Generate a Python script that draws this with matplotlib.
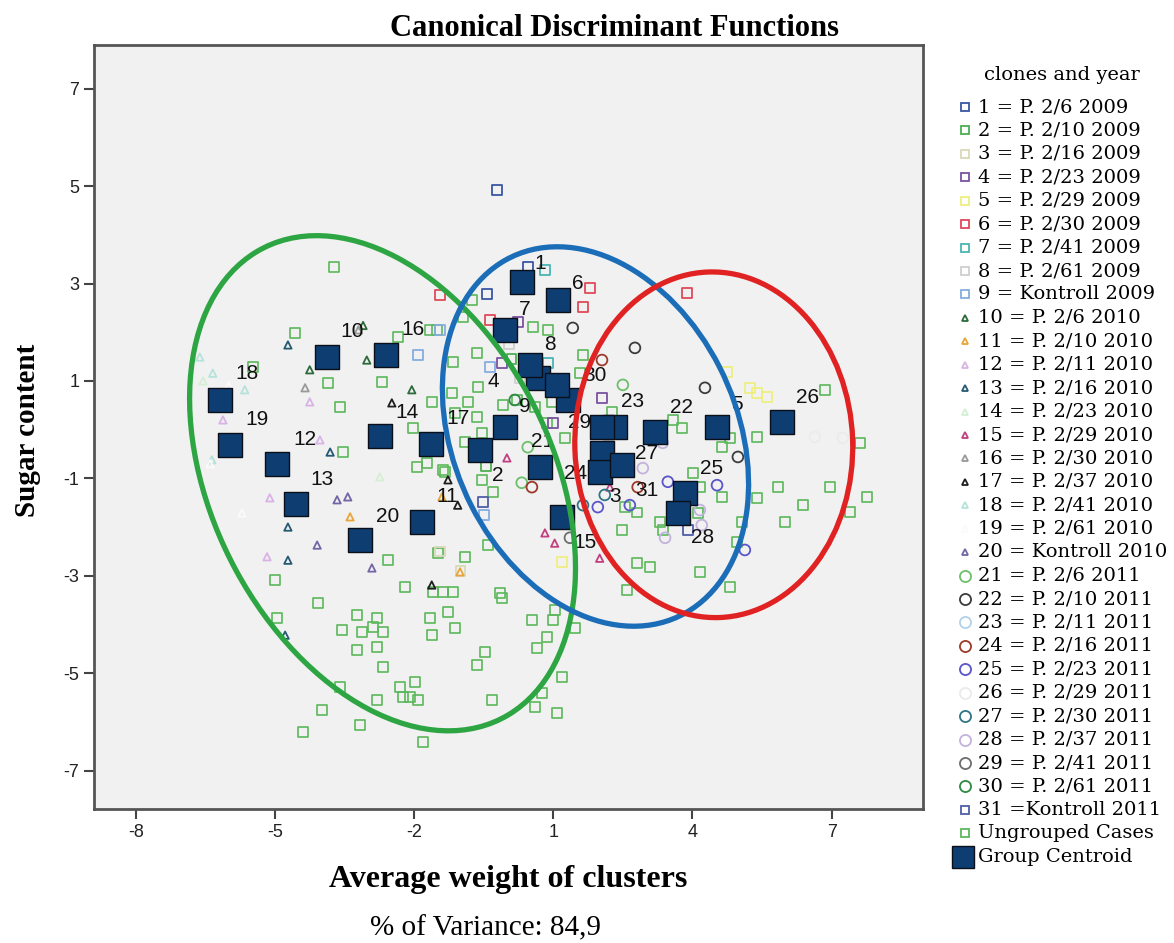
import matplotlib
matplotlib.use("Agg")
import matplotlib.pyplot as plt
from matplotlib.patches import Ellipse
from matplotlib.lines import Line2D

plt.rcParams["axes.unicode_minus"] = False

# ungrouped cases (function 1, function 2)
ug_x = [-3.73, -4.57, -3.86, -3.60, -2.69, -2.35, -1.51, -3.53, -2.03, -1.62, -1.94, -1.72, -1.34,
        -1.16, -0.65, -0.95, -0.75, -0.63, -0.84, -0.65, -1.12, -0.91, -0.54, -5.00, -4.07, -4.96,
        -3.56, -3.23, -3.13, -2.89, -2.80, -2.67, -3.23, -2.80, -2.67, -2.20, -2.56, -1.49, -0.91,
        -0.41, -1.59, -1.38, -1.16, -0.15, -0.11, -1.66, -1.27, -1.12, -1.62, 0.54, 1.03, 0.99,
        1.47, 0.86, 0.65, -0.47, -0.65, 1.19, 0.75, 0.60, 1.08, -0.32, -1.98, -2.31, -2.24, -2.09,
        -1.92, -2.80, -3.60, -3.99, -3.17, -4.40, -1.81, -1.66, 0.56, 0.88, 1.64, -1.19, -0.09,
        0.22, 0.60, 0.97, 0.86, 1.25, -0.54, -0.30, -1.38, 1.57, 6.85, 7.61, 7.76, 6.96, 6.38,
        5.84, 5.99, 5.39, 5.39, 4.81, 4.63, 4.63, 5.06, 4.96, 4.81, 4.16, 3.08, 2.80, 2.59, 2.48,
        3.36, 3.77, 7.39, 2.80, 2.54, 3.30, 4.01, 4.16, 4.12, 3.58, 2.26, -5.47]
ug_y = [3.34, 1.99, 0.96, 0.47, 0.98, 1.90, 2.05, -0.46, 0.03, 0.57, -0.77, -0.68, -0.87,
        1.39, 1.57, 2.31, 2.66, 0.88, 0.57, 0.26, 0.34, -0.25, -0.07, -3.09, -3.56, -3.87,
        -4.11, -3.81, -4.15, -4.05, -3.87, -4.15, -4.52, -4.46, -4.87, -3.23, -2.68, -2.53, -2.61,
        -2.37, -3.33, -3.33, -3.33, -3.35, -3.46, -3.87, -3.74, -4.07, -4.21, -3.91, -3.70, -3.91,
        -4.07, -4.26, -4.48, -4.57, -4.83, -5.08, -5.41, -5.69, -5.82, -5.55, -5.18, -5.28, -5.49, -5.49,
        -5.55, -5.55, -5.28, -5.75, -6.06, -6.21, -6.41, 2.05, 2.11, 2.05, 1.53, 0.75, 0.51,
        0.61, 0.47, 0.57, 0.14, -0.17, -1.03, -1.28, -0.83, 1.16, 0.82, -0.27, -1.38, -1.18, -1.54,
        -1.18, -1.89, -1.40, -0.15, -0.17, -0.36, -1.38, -1.89, -2.31, -3.23, -2.92, -2.82, -2.74, -3.29, -2.06,
        -2.06, 0.03, -1.69, -1.70, -1.59, -1.89, -0.89, -1.18, -1.71, 0.20, 0.36, 1.29]

# grouped cases, one list per clone/year
g01 = [(-0.22, 4.92), (0.45, 3.34), (-0.43, 2.79)]
g02 = [(-0.45, -0.75), (0.10, 1.45)]
g03 = [(-1.45, -2.50), (-1.00, -2.90)]
g04 = [(0.24, 2.21), (-0.11, 1.37), (0.99, 0.14), (2.05, 0.65)]
g05 = [(4.74, 1.19), (5.24, 0.86), (5.60, 0.67), (5.39, 0.75), (1.19, -2.72)]
g06 = [(-1.44, 2.76), (1.79, 2.91), (1.64, 2.52), (-0.37, 2.25), (3.88, 2.80)]
g07 = [(0.82, 3.28), (0.88, 1.37)]
g08 = [(0.28, 1.06), (0.05, 1.75)]
g09 = [(-1.44, 2.05), (-1.92, 1.53), (-0.37, 1.29), (-0.50, -1.75)]
g10 = [(-4.25, 1.23), (-3.02, 1.43), (-2.05, 0.82), (-3.10, 2.14)]
g11 = [(-1.40, -1.38), (-3.38, -1.79), (-1.01, -2.92)]
g12 = [(-4.25, 0.57), (-5.11, -1.40), (-5.17, -2.61), (-6.12, 0.20), (-4.03, -0.21)]
g13 = [(-4.72, 1.74), (-3.81, -0.46), (-4.72, -2.00), (-4.72, -2.68), (-4.78, -4.22)]
g14 = [(-2.74, -0.97), (-6.55, 1.00)]
g15 = [(0.82, -2.12), (1.03, -2.33), (2.00, -2.64), (2.22, -1.18), (0.00, -0.58)]
g16 = [(-4.35, 0.86), (-3.20, 2.05)]
g17 = [(-2.48, 0.55), (-1.27, -1.03), (-1.06, -1.55), (-1.62, -3.19)]
g18 = [(-6.62, 1.49), (-6.34, 1.16), (-5.65, 0.82), (-6.36, -0.62)]
g19 = [(-5.71, -1.71), (-6.40, -0.70), (-6.00, 0.90)]
g20 = [(-3.66, -1.44), (-3.43, -1.38), (-4.09, -2.37), (-2.91, -2.84)]
g21 = [(2.50, 0.92), (0.45, -0.36), (0.32, -1.09)]
g22 = [(1.42, 2.09), (2.76, 1.68), (4.27, 0.86), (4.98, -0.56)]
g23 = [(3.08, -0.21), (2.10, -0.60)]
g24 = [(0.54, -1.18), (2.82, -1.18), (2.05, 1.43)]
g25 = [(3.47, -1.07), (4.53, -1.14), (5.13, -2.47), (1.96, -1.59), (2.65, -1.55)]
g26 = [(6.64, -0.15), (7.24, -0.17)]
g27 = [(2.11, -1.34), (1.64, -1.55)]
g28 = [(4.16, -1.65), (4.20, -1.96), (3.41, -2.22), (2.93, -0.79), (3.36, -0.27)]
g29 = [(1.36, -2.22)]
g30 = [(0.17, 0.61)]
g31 = [(3.90, -2.06), (-0.52, -1.48)]

# group centroids 1..31
cent_x = [0.32, -0.58, 2.05, 0.67, 4.53, 1.10, -0.04, 0.50, -0.04, -3.88, -1.83, -4.96, -4.55,
          -2.74, 1.19, -2.61, -1.64, -6.19, -5.97, -3.17, 0.71, 3.19, 2.33, 2.00, 3.84, 5.93,
          2.48, 3.69, 2.05, 1.31, 1.08]
cent_y = [3.03, -0.42, -0.48, 1.06, 0.06, 2.66, 2.05, 1.33, 0.06, 1.49, -1.89, -0.70, -1.52,
          -0.13, -1.79, 1.53, -0.29, 0.61, -0.31, -2.26, -0.77, -0.05, 0.06, -0.87, -1.30, 0.16,
          -0.72, -1.71, 0.06, 0.61, 0.92]
# where SPSS put the group number
lab_x = [0.71, -0.19, 2.33, -0.30, 4.96, 1.53, 0.39, 0.93, 0.39, -3.34, -1.29, -4.35, -3.99,
         -2.16, 1.68, -2.03, -1.06, -5.60, -5.39, -2.56, 0.78, 3.77, 2.72, 1.47, 4.42, 6.49,
         3.02, 4.22, 1.57, 1.90, 3.02]
lab_y = [3.42, -0.95, -1.38, 0.98, 0.51, 3.01, 2.46, 1.74, 0.47, 2.01, -1.38, -0.21, -1.03,
         0.36, -2.31, 2.05, 0.22, 1.16, 0.20, -1.79, -0.25, 0.45, 0.57, -0.89, -0.79, 0.67,
         -0.48, -2.22, 0.14, 1.12, -1.24]

legend_labels = ["1 = P. 2/6 2009", "2 = P. 2/10 2009", "3 = P. 2/16 2009", "4 = P. 2/23 2009",
                 "5 = P. 2/29 2009", "6 = P. 2/30 2009", "7 = P. 2/41 2009", "8 = P. 2/61 2009",
                 "9 = Kontroll 2009", "10 = P. 2/6 2010", "11 = P. 2/10 2010", "12 = P. 2/11 2010",
                 "13 = P. 2/16 2010", "14 = P. 2/23 2010", "15 = P. 2/29 2010", "16 = P. 2/30 2010",
                 "17 = P. 2/37 2010", "18 = P. 2/41 2010", "19 = P. 2/61 2010", "20 = Kontroll 2010",
                 "21 = P. 2/6 2011", "22 = P. 2/10 2011", "23 = P. 2/11 2011", "24 = P. 2/16 2011",
                 "25 = P. 2/23 2011", "26 = P. 2/29 2011", "27 = P. 2/30 2011", "28 = P. 2/37 2011",
                 "29 = P. 2/41 2011", "30 = P. 2/61 2011", "31 =Kontroll 2011"]

groups = [g01, g02, g03, g04, g05, g06, g07, g08, g09, g10, g11, g12, g13, g14, g15, g16,
          g17, g18, g19, g20, g21, g22, g23, g24, g25, g26, g27, g28, g29, g30, g31]
colors = ["#3a55a4", "#4caf50", "#d9d9b8", "#7a52a0", "#eeee80", "#e04a5a", "#4ab5b5", "#cfcfcf",
          "#86aee0", "#2e6b3b", "#e8a53a", "#d9b3e6", "#255a72", "#d5efd5", "#c2407f", "#9a9a9a",
          "#1e1e1e", "#b5e3da", "#fafafa", "#7466a6", "#6cc06c", "#3c3c3c", "#b3d2ea", "#9c3a2a",
          "#5a55c8", "#ebebeb", "#2f7585", "#c2b3dc", "#6e6e6e", "#2e8a43", "#4f5ea8"]
markers = ["s"] * 9 + ["^"] * 11 + ["o"] * 10 + ["s"]
msize = {"s": 50, "^": 28, "o": 60}
ug_color = "#5cb85c"
cent_color = "#0e3d72"

W, H = 1174, 943
fig = plt.figure(figsize=(W / 100, H / 100), dpi=100)
ax = fig.add_axes([94 / W, 1 - 809 / H, (923 - 94) / W, (809 - 45) / H])
ax.set_facecolor("#f1f1f1")

ax.scatter(ug_x, ug_y, s=50, marker="s", facecolors="none", edgecolors=ug_color,
           linewidths=1.2, zorder=2)
for pts, c, m in zip(groups, colors, markers):
    xs = [p[0] for p in pts]
    ys = [p[1] for p in pts]
    ax.scatter(xs, ys, s=msize[m], marker=m, facecolors="none", edgecolors=c,
               linewidths=1.3, zorder=2)

for i in range(len(cent_x)):
    ax.text(lab_x[i], lab_y[i], str(i + 1), fontsize=15, family="Liberation Sans",
            ha="center", va="center", color="#111111", zorder=3)
ax.scatter(cent_x, cent_y, s=280, marker="s", color=cent_color, edgecolors="#0a0f1a",
           linewidths=1.0, zorder=4)

# hand-drawn groupings
ax.add_patch(Ellipse((-2.68, -1.10), 7.26, 10.95, angle=29.7, fill=False,
                     edgecolor="#2ea543", linewidth=3.8, zorder=5))
ax.add_patch(Ellipse((1.91, -0.14), 6.06, 8.22, angle=28.1, fill=False,
                     edgecolor="#1c6db8", linewidth=3.8, zorder=5))
ax.add_patch(Ellipse((4.46, -0.31), 5.99, 7.10, angle=2, fill=False,
                     edgecolor="#e12222", linewidth=3.8, zorder=5))

ax.set_xlim(-8.9, 8.97)
ax.set_ylim(-7.79, 7.9)
ax.set_xticks([-8, -5, -2, 1, 4, 7])
ax.set_yticks([7, 5, 3, 1, -1, -3, -5, -7])
ax.tick_params(direction="out", length=7, width=1.5, color="#444444", labelsize=13,
               labelcolor="#222222")
for lab in ax.get_xticklabels() + ax.get_yticklabels():
    lab.set_family("Liberation Sans")
for sp in ax.spines.values():
    sp.set_linewidth(2.0)
    sp.set_color("#555555")

fig.text(614 / W, 1 - 28 / H, "Canonical Discriminant Functions", ha="center", va="center",
         fontsize=22, fontweight="bold", family="Liberation Serif")
fig.text(508 / W, 1 - 880 / H, "Average weight of clusters", ha="center", va="center",
         fontsize=23, fontweight="bold", family="Liberation Serif")
fig.text(486 / W, 1 - 928 / H, "% of Variance: 84,9", ha="center", va="center",
         fontsize=21, family="Liberation Serif")
fig.text(28 / W, 1 - 430 / H, "Sugar content", ha="center", va="center", rotation=90,
         fontsize=21, fontweight="bold", family="Liberation Serif")

# legend, drawn by hand to keep SPSS spacing
fig.text(1062 / W, 1 - 75 / H, "clones and year", ha="center", va="center",
         fontsize=14, family="DejaVu Serif")
step = 23.43
for i, lab in enumerate(legend_labels):
    yy = 1 - (107 + i * step) / H
    m = markers[i]
    fig.add_artist(Line2D([965 / W], [yy], marker=m, markersize={"s": 6, "^": 5, "o": 8}[m],
                          markerfacecolor="none", markeredgecolor=colors[i],
                          markeredgewidth=1.3, linestyle="none", transform=fig.transFigure))
    fig.text(978 / W, yy, lab, ha="left", va="center", fontsize=14, family="DejaVu Serif")
yy = 1 - (107 + 31 * step) / H
fig.add_artist(Line2D([965 / W], [yy], marker="s", markersize=6, markerfacecolor="none",
                      markeredgecolor=ug_color, markeredgewidth=1.3, linestyle="none",
                      transform=fig.transFigure))
fig.text(978 / W, yy, "Ungrouped Cases", ha="left", va="center", fontsize=14, family="DejaVu Serif")
yy = 1 - (107 + 32 * step) / H
fig.add_artist(Line2D([963 / W], [yy], marker="s", markersize=16, markerfacecolor=cent_color,
                      markeredgecolor="#0a0f1a", linestyle="none", transform=fig.transFigure))
fig.text(978 / W, yy, "Group Centroid", ha="left", va="center", fontsize=14, family="DejaVu Serif")

fig.savefig("out.png", dpi=100)
